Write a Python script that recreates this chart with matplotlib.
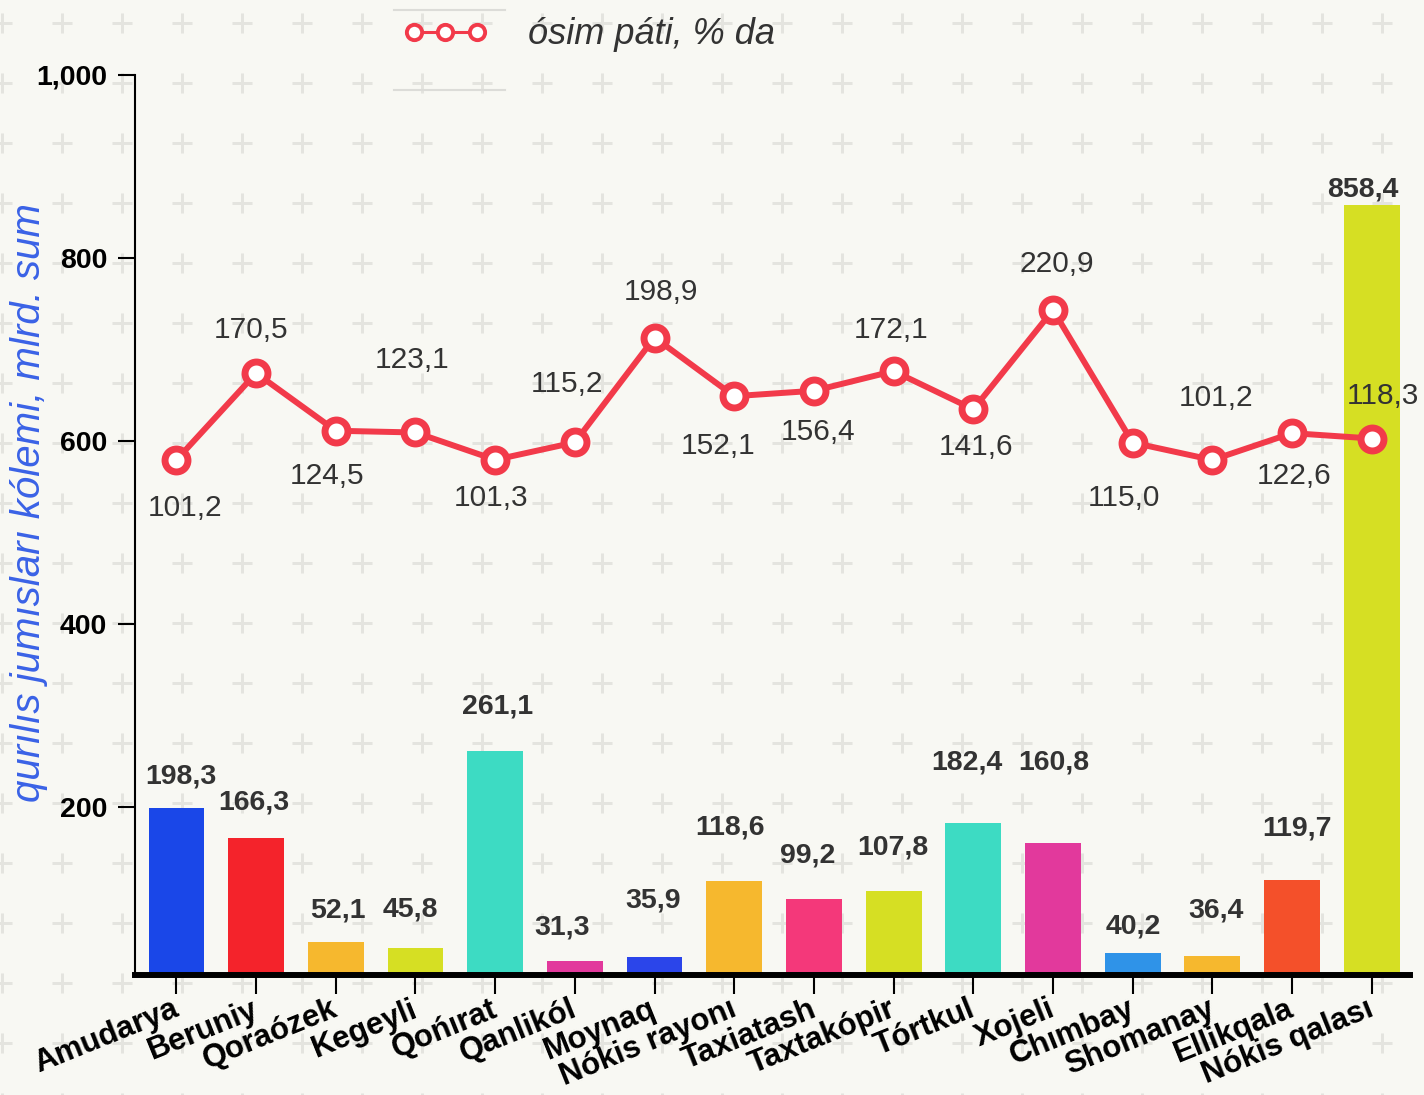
import numpy as np
import matplotlib
matplotlib.use("Agg")
import matplotlib.pyplot as plt
import matplotlib.transforms as mtransforms
from matplotlib.lines import Line2D

plt.rcParams['font.family'] = ['Liberation Sans', 'DejaVu Sans']

# ---- données ----
regions = ['Amudarya', 'Beruniy', 'Qoraózek', 'Kegeyli', 'Qońırat', 'Qanlikól',
           'Moynaq', 'Nókis rayonı', 'Taxiatash', 'Taxtakópir', 'Tórtkul', 'Xojeli',
           'Chımbay', 'Shomanay', 'Ellikqala', 'Nókis qalası']
volume = [198.3, 166.3, 52.1, 45.8, 261.1, 31.3, 35.9, 118.6, 99.2, 107.8,
          182.4, 160.8, 40.2, 36.4, 119.7, 858.4]
growth = [101.2, 170.5, 124.5, 123.1, 101.3, 115.2, 198.9, 152.1, 156.4, 172.1,
          141.6, 220.9, 115.0, 101.2, 122.6, 118.3]
yticks = [200, 400, 600, 800, 1000]
ytick_labels = ['200', '400', '600', '800', '1,000']

bar_colors = ['#1a47e8', '#f4232b', '#f6b82e', '#d6df23', '#3ddbc3', '#e2399c',
              '#2b45ea', '#f6b82e', '#f4387a', '#d6df23', '#3ddbc3', '#e2399c',
              '#2f93e8', '#f6b82e', '#f4502a', '#d6df23']

# décalages des étiquettes (pixels ; barres : vers le haut, courbe : vers le bas)
bar_lbl_off = [(4, 32), (-2, 35), (2, 31), (-5, 38), (2, 44), (-13, 34), (-1, 56), (-4, 54),
               (-6, 43), (-1, 44), (-6, 60), (1, 80), (1, 26), (4, 46), (5, 52), (-9, 15)]
line_lbl_off = [(9, 48), (-5, -43), (-9, 45), (-3, -72), (-4, 38), (-8, -58), (6, -46), (-16, 50),
                (4, 41), (-2, -41), (3, 38), (4, -46), (-9, 55), (4, -62), (2, 43), (11, -43)]

W, H = 1424, 1095
bg = '#f8f8f3'
red = '#f23a4a'
txt = '#333333'
px = 72 / 100  # pixels -> points

fig = plt.figure(figsize=(W / 100, H / 100), dpi=100, facecolor=bg)

# motif de fond "+"
bgax = fig.add_axes((0, 0, 1, 1), zorder=-10)
bgax.set_xlim(0, W)
bgax.set_ylim(H, 0)
bgax.axis('off')
gx, gy = np.meshgrid(np.arange(2, W + 40, 60), np.arange(23, H + 40, 60))
bgax.scatter(gx.ravel(), gy.ravel(), marker='+', s=(20 * px) ** 2,
             linewidths=3 * px, color='#e4e4df')

ax = fig.add_axes((135 / W, 1 - 975 / H, (1410 - 135) / W, 900 / H))
ax.patch.set_alpha(0)
x = np.arange(len(regions))
bars = ax.bar(x, volume, width=0.7, color=bar_colors, zorder=2)
ax.set_xlim(-0.52, 15.48)
ax.set_ylim(16, 1000)
ax.set_yticks(yticks)
ax.set_yticklabels(ytick_labels, fontsize=20.5, fontweight='bold')
ax.set_xticks(x)
ax.set_xticklabels(regions, fontsize=22.5, fontweight='bold', rotation=22,
                   ha='right', va='top', rotation_mode='anchor')
ax.tick_params(axis='y', length=12, width=1.5, pad=8)
ax.tick_params(axis='x', length=14, width=1.5, pad=2)
# léger décalage des noms vers la gauche, comme sur l'original
shift = mtransforms.ScaledTranslation(-5 / 100, 3 / 100, fig.dpi_scale_trans)
for lbl in ax.get_xticklabels():
    lbl.set_transform(lbl.get_transform() + shift)
for s in ['top', 'right']:
    ax.spines[s].set_visible(False)
ax.spines['left'].set_linewidth(1.5)
ax.spines['bottom'].set_linewidth(4.3)
ax.set_ylabel('qurılıs jumısları kólemi, mlrd. sum', fontsize=29, style='italic',
              color='#3a62e6')
ax.yaxis.set_label_coords(-0.068, 0.525)

for xi, v, (dx, dy) in zip(x, volume, bar_lbl_off):
    ax.annotate(f'{v:.1f}'.replace('.', ','), (xi, v), xytext=(dx * px, dy * px),
                textcoords='offset points', ha='center', va='center',
                fontsize=20.5, fontweight='bold', color=txt)

# courbe de croissance sur un second axe
ax2 = ax.twinx()
ax2.set_ylim(-310, 408.5)
ax2.axis('off')
ax2.plot(x, growth, color=red, lw=4.3, marker='o', ms=16.5, mfc='white',
         mec=red, mew=5, zorder=3)
for xi, v, (dx, dy) in zip(x, growth, line_lbl_off):
    ax2.annotate(f'{v:.1f}'.replace('.', ','), (xi, v), xytext=(dx * px, -dy * px),
                 textcoords='offset points', ha='center', va='center',
                 fontsize=21.5, color=txt)

# légende
handle = Line2D([], [], color=red, lw=2.2, marker='o', ms=11, mfc='white', mec=red, mew=2.8)
fig.legend([handle], ['ósim páti, % da'], numpoints=3, loc='center left',
           bbox_to_anchor=(403 / W, 1 - 35 / H), frameon=False, borderpad=0,
           borderaxespad=0, handlelength=2.35, handletextpad=1.1,
           prop={'size': 26, 'style': 'italic'}, labelcolor=txt)
for yy in (10, 90):
    fig.add_artist(Line2D([394 / W, 505 / W], [1 - yy / H, 1 - yy / H],
                          transform=fig.transFigure, color='#dcdcd8', lw=1.5))

fig.savefig('out.png', dpi=100, facecolor=bg)
